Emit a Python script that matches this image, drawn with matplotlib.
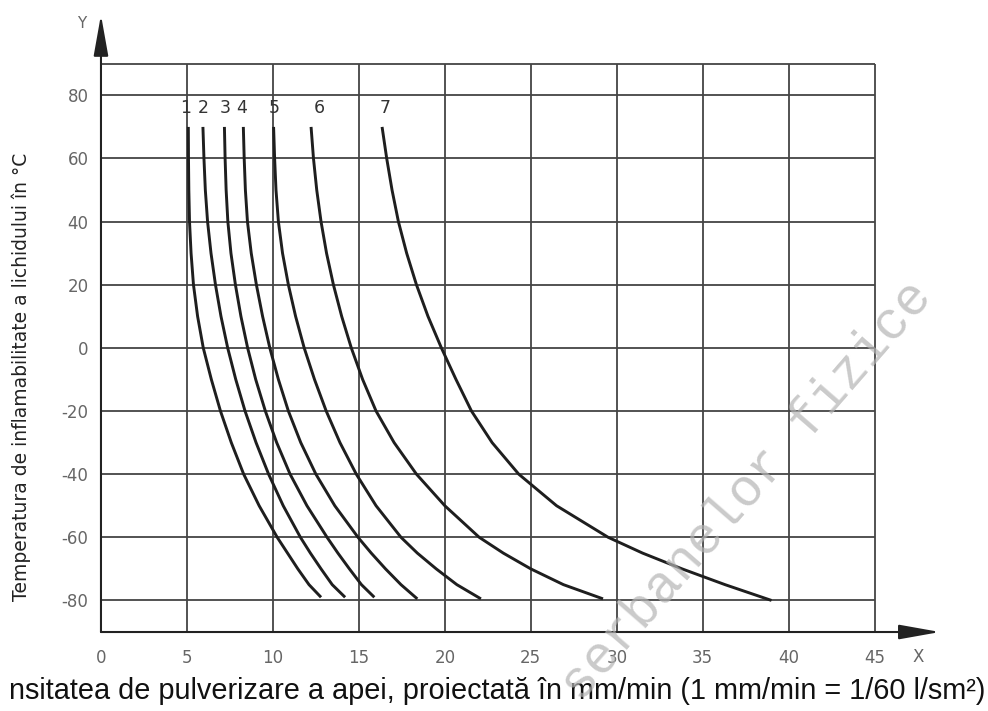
import numpy as np
import matplotlib.pyplot as plt

plt.rcParams["axes.unicode_minus"] = False

# temperature levels (deg C) where the curves were read
temps = [70, 60, 50, 40, 30, 20, 10, 0, -10, -20, -30, -40, -50, -60, -65, -70, -75]

# spray intensity (mm/min) of each curve at those temperatures
curve1 = [5.08, 5.09, 5.11, 5.15, 5.24, 5.38, 5.62, 5.95, 6.42, 6.95, 7.58, 8.30, 9.20, 10.25, 10.85, 11.45, 12.1]
curve2 = [5.93, 5.99, 6.07, 6.20, 6.40, 6.66, 6.98, 7.37, 7.84, 8.38, 9.02, 9.75, 10.6, 11.6, 12.18, 12.8, 13.45]
curve3 = [7.18, 7.22, 7.28, 7.38, 7.56, 7.82, 8.14, 8.53, 9.00, 9.56, 10.22, 11.0, 11.98, 13.15, 13.78, 14.45, 15.15]
curve4 = [8.28, 8.33, 8.40, 8.52, 8.74, 9.04, 9.40, 9.82, 10.32, 10.9, 11.62, 12.5, 13.6, 14.95, 15.72, 16.55, 17.45]
curve5 = [10.04, 10.1, 10.18, 10.32, 10.56, 10.9, 11.32, 11.82, 12.42, 13.1, 13.9, 14.85, 16.0, 17.45, 18.4, 19.5, 20.7]
curve6 = [12.22, 12.36, 12.55, 12.8, 13.12, 13.52, 14.0, 14.56, 15.22, 16.0, 17.05, 18.35, 20.0, 22.0, 23.4, 25.0, 26.9]
curve7 = [16.35, 16.62, 16.93, 17.3, 17.78, 18.35, 19.02, 19.8, 20.65, 21.55, 22.75, 24.3, 26.5, 29.5, 31.5, 33.8, 36.3]
curves = [curve1, curve2, curve3, curve4, curve5, curve6, curve7]

# where each curve stops at the bottom
end_x = [12.8, 14.2, 15.9, 18.4, 22.1, 29.2, 39.0]
end_t = [-79, -79, -79, -79.5, -79.5, -79.5, -80]

curve_names = ["1", "2", "3", "4", "5", "6", "7"]
label_x = [4.9, 5.95, 7.2, 8.2, 10.06, 12.7, 16.5]
label_t = 76

x_ticks = list(range(0, 46, 5))
y_ticks = list(range(-80, 81, 20))

grid_c = "#444444"
curve_c = "#1e1e1e"
tick_c = "#666666"

fig = plt.figure(figsize=(9.88, 7.11), dpi=100)
ax = fig.add_axes([0.1022, 0.1111, 0.8492, 0.868])
ax.set_xlim(0, 48.8)
ax.set_ylim(-90, 105.5)
for s in ax.spines.values():
    s.set_visible(False)

# grid: horizontal lines incl. top border at 90, vertical lines incl. right border at 45
ax.hlines(y_ticks + [90], -0.45, 45, color=grid_c, lw=1.3, zorder=1)
ax.vlines(x_ticks[1:], -91.3, 90, color=grid_c, lw=1.3, zorder=1)

# axes with arrows
arrow = dict(arrowstyle="-|>,head_length=1.4,head_width=0.25", color="#222222",
             lw=1.5, mutation_scale=18, shrinkA=0, shrinkB=0)
ax.annotate("", xy=(48.8, -90), xytext=(0, -90), arrowprops=arrow,
            annotation_clip=False, zorder=3)
ax.annotate("", xy=(0, 105.5), xytext=(0, -90), arrowprops=arrow,
            annotation_clip=False, zorder=3)

for xs, ex, et, name, lx in zip(curves, end_x, end_t, curve_names, label_x):
    ax.plot(xs + [ex], temps + [et], color=curve_c, lw=2.1, zorder=4,
            solid_capstyle="butt", solid_joinstyle="round")
    ax.text(lx, label_t, name, ha="center", va="center", fontsize=12.5,
            color="#333333", zorder=5)

ax.set_xticks(x_ticks)
ax.set_yticks(y_ticks)
ax.tick_params(axis="x", length=0, pad=12, labelsize=12, labelcolor=tick_c)
ax.tick_params(axis="y", length=0, pad=9, labelsize=12, labelcolor=tick_c)

fig.text(82 / 988, 1 - 23 / 711, "Y", ha="center", va="center", fontsize=11,
         color=tick_c)
fig.text(918 / 988, 1 - 657 / 711, "X", ha="center", va="center", fontsize=12,
         color=tick_c)

fig.text(0.022, 0.47, "Temperatura de inflamabilitate a lichidului în °C",
         rotation=90, ha="center", va="center", fontsize=13.5, color="#222222")
# the reference shows this label cropped at the left edge
fig.text(985 / 988, 1 - 691 / 711,
         "nsitatea de pulverizare a apei, proiectată în mm/min (1 mm/min = 1/60 l/sm²)",
         ha="right", va="center", fontsize=20.8, color="#111111",
         family="Liberation Sans")

# watermark
fig.text(0.755, 0.31, "serbanelor fizice", rotation=49, ha="center",
         va="center", fontsize=38, family="Liberation Mono", color="#b4b4b4",
         alpha=0.7, zorder=10)

fig.savefig("out.png", dpi=100)
